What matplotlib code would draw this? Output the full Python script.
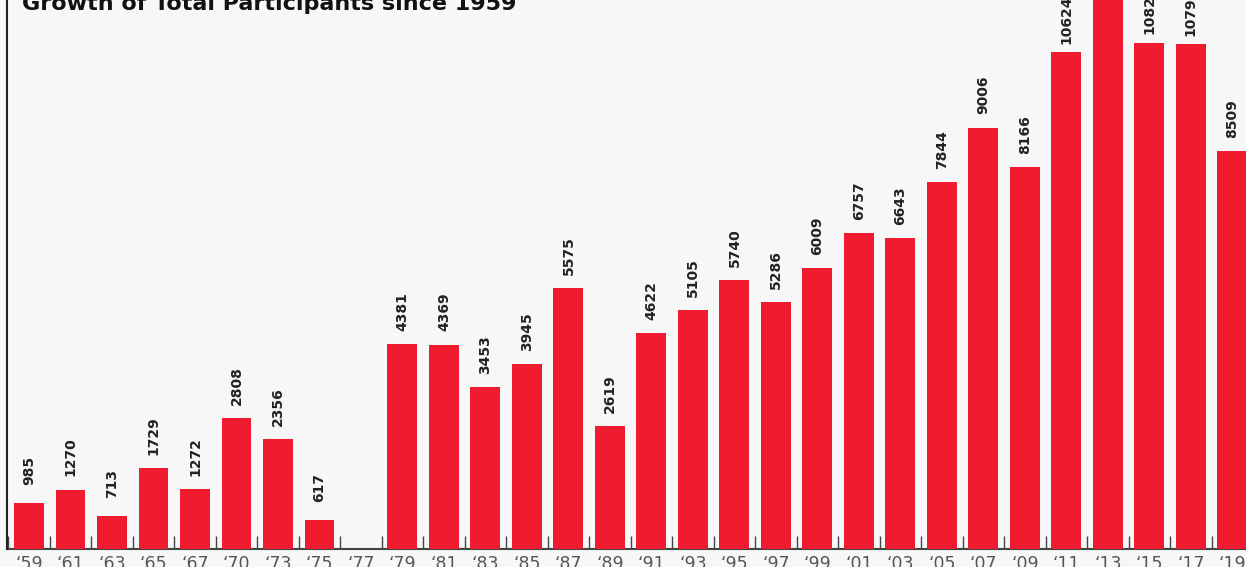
import matplotlib
matplotlib.use("Agg")
import matplotlib.pyplot as plt
import numpy as np

years = ["59", "61", "63", "65", "67", "70", "73", "75", "77", "79", "81", "83", "85", "87", "89",
         "91", "93", "95", "97", "99", "01", "03", "05", "07", "09", "11", "13", "15", "17", "19"]
participants = [985, 1270, 713, 1729, 1272, 2808, 2356, 617, 0, 4381, 4369, 3453, 3945, 5575, 2619,
                4622, 5105, 5740, 5286, 6009, 6757, 6643, 7844, 9006, 8166, 10624, 11950, 10825, 10793, 8509]
tick_labels = ["\u2018" + y for y in years]
title = "Growth of Total Participants since 1959"

BG = "#f7f7f7"
RED = "#ee1c2e"

W, H = 1246, 567
fig = plt.figure(figsize=(W / 100, H / 100), dpi=100, facecolor=BG)
ax = fig.add_axes([7 / W, 18 / H, (W - 7) / W, (H - 18) / H])
ax.set_facecolor(BG)

x = np.arange(len(years))
ax.bar(x, participants, width=0.72, color=RED, zorder=3)
for xi, v in zip(x, participants):
    if v > 0:
        ax.annotate(f"{v}", (xi, v), xytext=(0, 23.4), textcoords="offset points",
                    rotation=90, ha="center", va="center", fontsize=10, fontweight="bold",
                    color="#222222", annotation_clip=False, zorder=4)

ax.set_xticks(x)
ax.set_xticklabels(tick_labels, fontsize=12.5, color="#555555")
ax.tick_params(axis="x", which="major", length=0, pad=4)
ax.set_xticks(np.arange(-0.5, len(years), 1.0), minor=True)
ax.tick_params(axis="x", which="minor", direction="in", length=9.5, width=1.0, color="#444444")
ax.set_yticks([])
ax.set_xlim(-0.53, 29.33)
ax.set_ylim(0, 11736)
for s in ["top", "right"]:
    ax.spines[s].set_visible(False)
ax.spines["left"].set_color("#222222")
ax.spines["left"].set_linewidth(1.5)
ax.spines["bottom"].set_color("#444444")
ax.spines["bottom"].set_linewidth(1.5)
ax.spines["bottom"].set_zorder(1)

fig.text(22 / W, 1 - 10 / H, title, fontsize=16, fontweight="bold",
         color="#111111", ha="left", va="baseline")

fig.savefig("out.png", dpi=100, facecolor=BG)
